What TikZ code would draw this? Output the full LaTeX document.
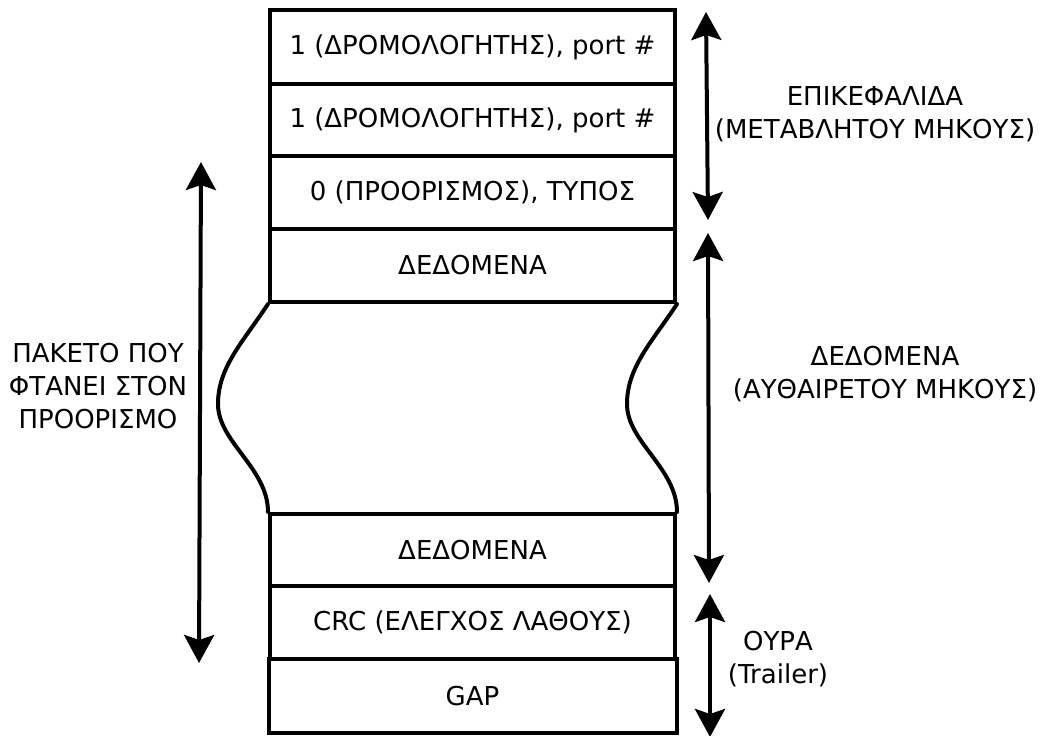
\documentclass[tikz,border=0pt]{standalone}
\usepackage{fontspec}
\setmainfont{DejaVu Sans}
\usetikzlibrary{arrows.meta}
\begin{document}
\begin{tikzpicture}[x=1pt,y=-1pt,
  field/.style={draw,line width=4pt,minimum width=405pt,inner sep=0pt,
    font=\fontsize{26}{31}\selectfont},
  label/.style={align=center,inner sep=0pt,font=\fontsize{26}{33}\selectfont},
  span/.style={line width=4pt,{Stealth[length=28pt,width=30pt,inset=5pt]}-{Stealth[length=28pt,width=30pt,inset=5pt]}},
  wave/.style={line width=4pt,line cap=round,line join=round}]
\useasboundingbox (0,0) rectangle (1045,736);

% header fields
\node[field,minimum height=74pt] (r1) at (472.5,47) {1 (ΔΡΟΜΟΛΟΓΗΤΗΣ), port \#};
\node[field,minimum height=72pt] (r2) at (472.5,120) {1 (ΔΡΟΜΟΛΟΓΗΤΗΣ), port \#};
\node[field,minimum height=73pt] (r3) at (472.5,192.5) {0 (ΠΡΟΟΡΙΣΜΟΣ), ΤΥΠΟΣ};
\node[field,minimum height=73pt] (r4) at (472.5,265.5) {ΔΕΔΟΜΕΝΑ};
% data tail, trailer
\node[field,minimum height=72pt] (r5) at (472.5,550) {ΔΕΔΟΜΕΝΑ};
\node[field,minimum height=73pt] (r6) at (472.5,622.5) {CRC (ΕΛΕΓΧΟΣ ΛΑΘΟΥΣ)};
\node[field,minimum height=74pt,minimum width=408pt] (r7) at (472.5,696) {GAP};

% wavy sides of the variable-length data section
\draw[wave] (r4.south west) .. controls +(-25,38) and +(0,-37) .. ++(-50,100)
  .. controls +(0,38) and +(0,-44) .. (r5.north west);
\draw[wave] (r4.south east) .. controls +(-25,38) and +(0,-37) .. ++(-50,100)
  .. controls +(0,38) and +(0,-44) .. (r5.north east);

% span arrows
\coordinate (pT) at (201,162);
\coordinate (pB) at (199,663);
\coordinate (hT) at (706,12);
\coordinate (hB) at (708,220);
\coordinate (dT) at (708,233);
\coordinate (dB) at (709,583);
\coordinate (tT) at (710,594);
\coordinate (tB) at (710,737);
\draw[span] (pT) -- (pB);
\draw[span] (hT) -- (hB);
\draw[span] (dT) -- (dB);
\draw[span] (tT) -- (tB);

% labels
\node[label] (lh) at (875,114) {ΕΠΙΚΕΦΑΛΙΔΑ\\(ΜΕΤΑΒΛΗΤΟΥ ΜΗΚΟΥΣ)};
\node[label] (ld) at (885,374) {ΔΕΔΟΜΕΝΑ\\(ΑΥΘΑΙΡΕΤΟΥ ΜΗΚΟΥΣ)};
\node[label] (lt) at (778,659) {ΟΥΡΑ\\(Trailer)};
\node[label] (lp) at (98,386) {ΠΑΚΕΤΟ ΠΟΥ\\ΦΤΑΝΕΙ ΣΤΟΝ\\ΠΡΟΟΡΙΣΜΟ};
\end{tikzpicture}
\end{document}
